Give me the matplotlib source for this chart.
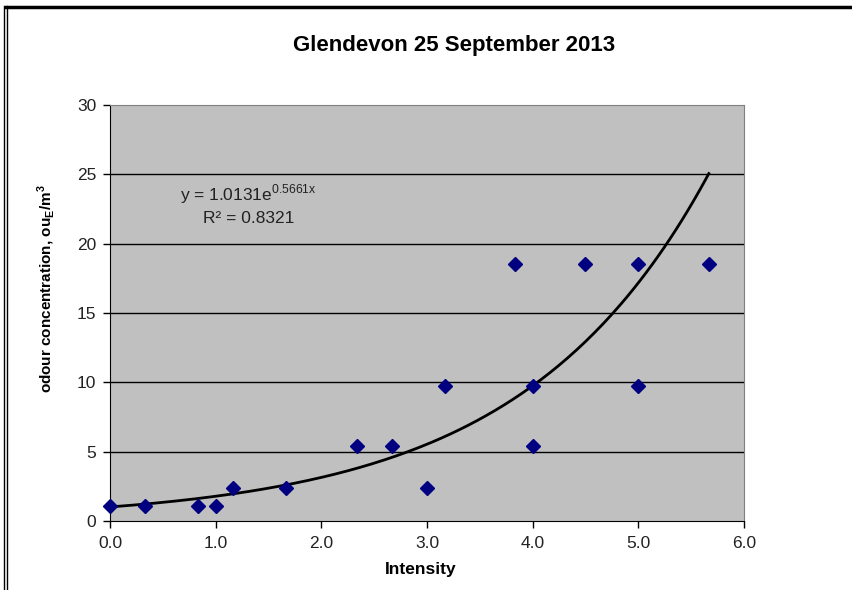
import matplotlib.pyplot as plt
import matplotlib.lines as ml
import numpy as np

plt.rcParams['font.family'] = ['Liberation Sans', 'DejaVu Sans']

# data
intensity = [0.0, 0.333, 0.833, 1.0, 1.167, 1.667, 2.333, 2.667, 3.0, 3.167,
             3.833, 4.0, 4.0, 4.5, 5.0, 5.0, 5.667]
odour = [1.1, 1.1, 1.1, 1.1, 2.4, 2.4, 5.4, 5.4, 2.4, 9.7,
         18.5, 9.7, 5.4, 18.5, 18.5, 9.7, 18.5]

# exponential trendline from the chart label
fit_a = 1.0131
fit_b = 0.5661
fit_r2 = 0.8321

xticks = np.arange(0, 6.01, 1.0)
yticks = np.arange(0, 31, 5)

fig = plt.figure(figsize=(8.53, 5.90), dpi=100)
fig.patch.set_facecolor('white')

# outer chart border (top and left visible)
fig.add_artist(ml.Line2D([6/853, 1], [1-7/590, 1-7/590], transform=fig.transFigure, color='k', lw=2.5))
fig.add_artist(ml.Line2D([4/853, 4/853], [0, 1-6/590], transform=fig.transFigure, color='k', lw=1.0))
fig.add_artist(ml.Line2D([7.5/853, 7.5/853], [0, 1-6/590], transform=fig.transFigure, color='k', lw=1.0))

ax = fig.add_axes([110/853, 1-521/590, (744-110)/853, (521-105)/590])
ax.set_facecolor('#c0c0c0')
ax.set_xlim(0, 6)
ax.set_ylim(0, 30)

for yv in yticks[1:-1]:
    ax.axhline(yv, color='k', lw=1.0, zorder=1)

xs = np.linspace(0, max(intensity), 200)
ax.plot(xs, fit_a*np.exp(fit_b*xs), color='k', lw=2.0, zorder=2)
ax.plot(intensity, odour, linestyle='none', marker='D', markersize=7.5,
        color='#000080', zorder=3, clip_on=False)

for s in ['top', 'right']:
    ax.spines[s].set_color('#808080')
for s in ['left', 'bottom']:
    ax.spines[s].set_color('k')

ax.set_xticks(xticks)
ax.set_xticklabels(['%.1f' % v for v in xticks], fontsize=12.5, color='#222222')
ax.set_yticks(yticks)
ax.set_yticklabels(['%d' % v for v in yticks], fontsize=12.5, color='#222222')
ax.tick_params(axis='x', direction='out', length=5, width=1, pad=6)
ax.tick_params(axis='y', direction='out', length=5, width=1, pad=5)

ax.set_xlabel('Intensity', fontsize=12.5, fontweight='bold')
ax.xaxis.set_label_coords(0.49, -0.099)
ax.set_ylabel('odour concentration, ou$_\\mathregular{E}$/m$^\\mathregular{3}$',
              fontsize=11, fontweight='bold')
ax.yaxis.set_label_coords(-0.084, 0.558)

fig.text(454/853, 1-45/590, 'Glendevon 25 September 2013', ha='center', va='center',
         fontsize=16, fontweight='bold')

ax.text(0.66, 23.1, 'y = %.4fe$^{\\mathregular{%.4fx}}$' % (fit_a, fit_b), fontsize=12.5, color='#222222')
ax.text(0.88, 21.5, 'R² = %.4f' % fit_r2, fontsize=12.5, color='#222222')

plt.savefig('out.png', dpi=100)
